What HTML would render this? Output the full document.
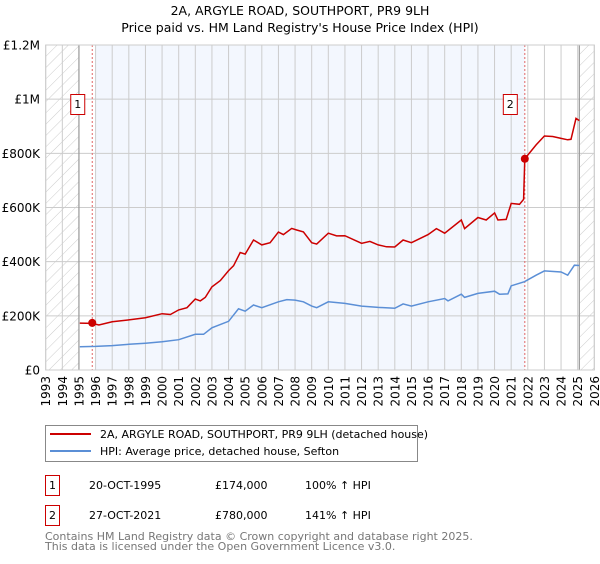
<!DOCTYPE html>
<html><head><meta charset="utf-8"><style>
body{margin:0;background:#fff;font-family:"DejaVu Sans","Liberation Sans",sans-serif}
svg text{font-family:"DejaVu Sans","Liberation Sans",sans-serif}
</style></head><body>
<svg id="chart" width="600" height="560" viewBox="0 0 600 560" xmlns="http://www.w3.org/2000/svg">
<defs>
<pattern id="hatch" width="8" height="8" patternUnits="userSpaceOnUse" patternTransform="rotate(45)">
<line x1="0" y1="0" x2="0" y2="8" stroke="#ccc" stroke-width="1"/></pattern>
</defs>
<text x="300" y="15" text-anchor="middle" font-size="12.5">2A, ARGYLE ROAD, SOUTHPORT, PR9 9LH</text>
<text x="300" y="32" text-anchor="middle" font-size="12.5">Price paid vs. HM Land Registry's House Price Index (HPI)</text>
<g id="plot"></g>
<g>
<rect x="45.5" y="425.5" width="372" height="36" fill="#fff" stroke="#888"/>
<line x1="50" y1="434" x2="91" y2="434" stroke="#cc0000" stroke-width="2"/>
<text x="100" y="438" font-size="11">2A, ARGYLE ROAD, SOUTHPORT, PR9 9LH (detached house)</text>
<line x1="50" y1="451" x2="91" y2="451" stroke="#5b8fd6" stroke-width="2"/>
<text x="100" y="455" font-size="11">HPI: Average price, detached house, Sefton</text>
</g>
<g font-size="11">
<rect x="45.5" y="475.5" width="14" height="20" fill="#fff" stroke="#c00"/>
<text x="52.5" y="489" text-anchor="middle">1</text>
<text x="89" y="489">20-OCT-1995</text><text x="215" y="489">£174,000</text><text x="305" y="489">100% ↑ HPI</text>
<rect x="45.5" y="505.5" width="14" height="20" fill="#fff" stroke="#c00"/>
<text x="52.5" y="519" text-anchor="middle">2</text>
<text x="89" y="519">27-OCT-2021</text><text x="215" y="519">£780,000</text><text x="305" y="519">141% ↑ HPI</text>
</g>
<text x="45" y="540" font-size="11" fill="#777">Contains HM Land Registry data © Crown copyright and database right 2025.</text>
<text x="45" y="550" font-size="11" fill="#777">This data is licensed under the Open Government Licence v3.0.</text>
</svg>
<script>
const yearTicks=[1993,1994,1995,1996,1997,1998,1999,2000,2001,2002,2003,2004,2005,2006,2007,2008,2009,2010,2011,2012,2013,2014,2015,2016,2017,2018,2019,2020,2021,2022,2023,2024,2025,2026];
const valueTicks=[0,200000,400000,600000,800000,1000000,1200000];
const valueTickLabels=["£0","£200K","£400K","£600K","£800K","£1M","£1.2M"];
const priceYears=[1995.05,1995.8,1996.2,1997,1998,1999,2000,2000.5,2001,2001.5,2002,2002.3,2002.6,2003,2003.5,2004,2004.3,2004.7,2005,2005.5,2006,2006.5,2007,2007.3,2007.8,2008.1,2008.5,2009,2009.3,2010,2010.5,2011,2012,2012.5,2013,2013.5,2014,2014.5,2015,2016,2016.5,2017,2018,2018.2,2019,2019.5,2020,2020.2,2020.7,2021,2021.5,2021.75,2021.82,2022.5,2023,2023.5,2024,2024.4,2024.6,2024.9,2025.1];
const priceValues=[173000,172000,166000,178000,185000,193000,208000,205000,222000,230000,262000,255000,268000,307000,330000,367000,385000,434000,428000,480000,462000,470000,509000,500000,523000,517000,510000,470000,465000,505000,495000,496000,468000,475000,462000,455000,454000,480000,470000,500000,522000,505000,554000,522000,563000,554000,580000,554000,556000,615000,612000,630000,780000,831000,864000,862000,855000,850000,852000,929000,921000];
const hpiYears=[1995.05,1996,1997,1998,1999,2000,2001,2002,2002.5,2003,2004,2004.6,2005,2005.5,2006,2007,2007.5,2008,2008.5,2009,2009.3,2010,2011,2012,2013,2014,2014.5,2015,2016,2017,2017.2,2018,2018.2,2019,2020,2020.3,2020.8,2021,2021.8,2022.5,2023,2024,2024.4,2024.8,2025.1];
const hpiValues=[86000,87000,90000,95000,99000,104000,112000,132000,132000,156000,180000,226000,217000,240000,230000,252000,260000,258000,252000,236000,230000,252000,246000,236000,231000,228000,244000,236000,252000,264000,255000,280000,268000,283000,291000,280000,281000,311000,326000,350000,366000,362000,350000,387000,386000];
const saleYears=[1995.8,2021.82];
const saleValues=[174000,780000];
const saleLabels=["1","2"];

const NS="http://www.w3.org/2000/svg";
const X0=45.7,X1=594.3,Y0=370,Y1=45;
const xs=y=>X0+(y-1993)/(2026-1993)*(X1-X0);
const ys=v=>Y0-v/1200000*(Y0-Y1);
const g=document.getElementById('plot');
function mk(tag,attrs,parent){const e=document.createElementNS(NS,tag);for(const k in attrs)e.setAttribute(k,attrs[k]);(parent||g).appendChild(e);return e;}
let r;
r=mk('rect',{x:X0,y:Y1,width:X1-X0,height:Y0-Y1,fill:'#fff'});


r=mk('rect',{x:xs(1996),y:Y1,width:xs(saleYears[1])-xs(1996),height:Y0-Y1,fill:'#eef3fd',opacity:0.7});


r=mk('rect',{x:X0,y:Y1,width:xs(1995)-X0,height:Y0-Y1,fill:'url(#hatch)'});


r=mk('rect',{x:xs(2025.1),y:Y1,width:X1-xs(2025.1),height:Y0-Y1,fill:'url(#hatch)'});


yearTicks.forEach(y=>{
  const l=mk('line',{x1:xs(y),x2:xs(y),y1:Y1,y2:Y0,stroke:'#ccc','stroke-width':1});
  
  
  const t=mk('text',{x:0,y:0,'font-size':12,'text-anchor':'end',transform:`translate(${xs(y)+4.5},376) rotate(-90)`});
  t.textContent=y;
  
  
});
valueTicks.forEach((v,i)=>{
  const l=mk('line',{x1:X0,x2:X1,y1:ys(v),y2:ys(v),stroke:'#ccc','stroke-width':1});
  
  
  const t=mk('text',{x:40,y:ys(v)+4.5,'font-size':12,'text-anchor':'end'});
  t.textContent=valueTickLabels[i];
  
  
});
[1995,2025.1].forEach(y=>{
  const l=mk('line',{x1:xs(y),x2:xs(y),y1:Y1,y2:Y0,stroke:'#999','stroke-width':1.2});
  
  
});
saleYears.forEach(y=>{
  const l=mk('line',{x1:xs(y),x2:xs(y),y1:Y1,y2:Y0,stroke:'#e06666','stroke-width':1,'stroke-dasharray':'2,2'});
  
  
});
const pts=(xa,va)=>xa.map((y,i)=>xs(y).toFixed(1)+','+ys(va[i]).toFixed(1)).join(' ');
let p=mk('polyline',{points:pts(hpiYears,hpiValues),fill:'none',stroke:'#5b8fd6','stroke-width':1.5});


p=mk('polyline',{points:pts(priceYears,priceValues),fill:'none',stroke:'#cc0000','stroke-width':1.5});


saleYears.forEach((y,i)=>{
  const c=mk('circle',{cx:xs(y),cy:ys(saleValues[i]),r:4,fill:'#cc0000'});
  
  
  const b=mk('rect',{x:xs(y)-21.5,y:94.5,width:14,height:20,fill:'#fff',stroke:'#c00'});
  
  
  const t=mk('text',{x:xs(y)-14.5,y:108,'font-size':11,'text-anchor':'middle'});
  t.textContent=saleLabels[i];
  
  
});
const border=mk('rect',{x:X0,y:Y1,width:X1-X0,height:Y0-Y1,fill:'none',stroke:'#ccc'});


</script>
</body></html>
